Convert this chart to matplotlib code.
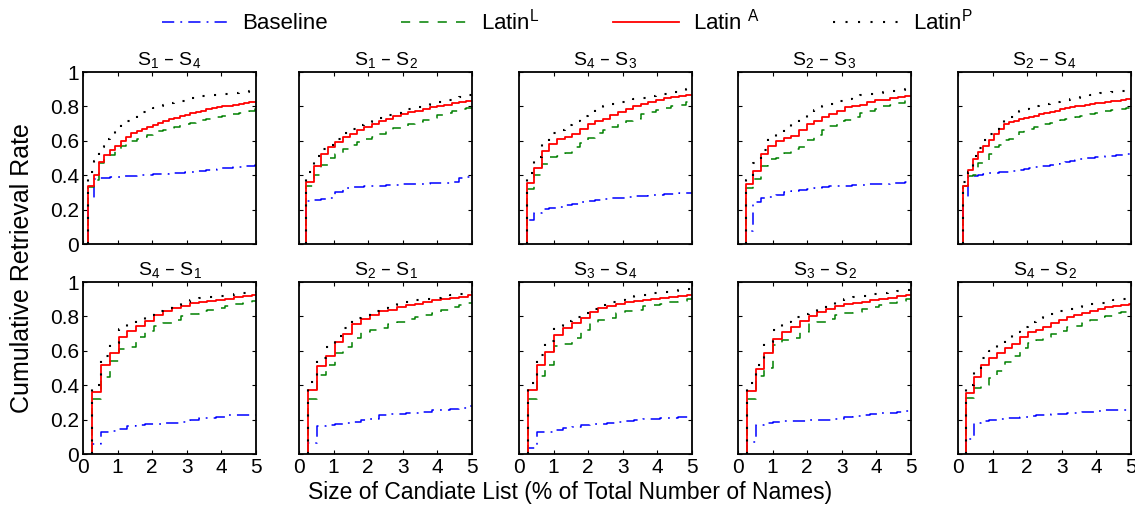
import numpy as np
import matplotlib
matplotlib.use("Agg")
import matplotlib.pyplot as plt

plt.rcParams['font.family'] = ['Liberation Sans', 'DejaVu Sans']
plt.rcParams['mathtext.default'] = 'regular'

# panel titles (pairs of scripts), row by row
titles = ['S$_1$ – S$_4$', 'S$_1$ – S$_2$', 'S$_4$ – S$_3$', 'S$_2$ – S$_3$', 'S$_2$ – S$_4$',
          'S$_4$ – S$_1$', 'S$_2$ – S$_1$', 'S$_3$ – S$_4$', 'S$_3$ – S$_2$', 'S$_4$ – S$_2$']

# size of one step on the x axis (% of names) for each panel
step = [0.155, 0.21, 0.22, 0.22, 0.147, 0.257, 0.257, 0.255, 0.255, 0.224]

baseline = [
    [0.27, 0.38, 0.383, 0.386, 0.389, 0.391, 0.393, 0.395, 0.397, 0.399, 0.401, 0.403, 0.405, 0.407, 0.409, 0.411,
     0.413, 0.415, 0.418, 0.421, 0.424, 0.427, 0.43, 0.433, 0.436, 0.439, 0.442, 0.445, 0.448, 0.451, 0.455, 0.46],
    [0.25, 0.255, 0.262, 0.27, 0.30, 0.325, 0.33, 0.333, 0.336, 0.338, 0.34, 0.343, 0.345, 0.347, 0.349, 0.35,
     0.351, 0.352, 0.354, 0.356, 0.362, 0.385, 0.39],
    [0.14, 0.18, 0.205, 0.212, 0.218, 0.225, 0.234, 0.242, 0.248, 0.254, 0.26, 0.265, 0.27, 0.274, 0.277, 0.28,
     0.283, 0.286, 0.289, 0.292, 0.295, 0.298],
    [0.078, 0.247, 0.267, 0.276, 0.286, 0.305, 0.31, 0.315, 0.32, 0.325, 0.33, 0.335, 0.338, 0.34, 0.342, 0.344,
     0.346, 0.348, 0.35, 0.352, 0.355, 0.358],
    [0.265, 0.39, 0.395, 0.40, 0.407, 0.41, 0.413, 0.416, 0.42, 0.423, 0.427, 0.432, 0.436, 0.441, 0.447, 0.452,
     0.456, 0.46, 0.465, 0.472, 0.478, 0.484, 0.49, 0.494, 0.498, 0.501, 0.504, 0.507, 0.511, 0.514, 0.517, 0.519,
     0.521, 0.523],
    [0.058, 0.13, 0.135, 0.144, 0.165, 0.169, 0.172, 0.175, 0.178, 0.181, 0.185, 0.195, 0.208, 0.212, 0.217, 0.227,
     0.228, 0.228, 0.229],
    [0.066, 0.16, 0.169, 0.172, 0.179, 0.185, 0.195, 0.202, 0.228, 0.23, 0.233, 0.237, 0.241, 0.247, 0.253, 0.257,
     0.26, 0.27, 0.278],
    [0.037, 0.126, 0.13, 0.14, 0.15, 0.158, 0.169, 0.173, 0.177, 0.18, 0.185, 0.19, 0.197, 0.202, 0.205, 0.21,
     0.212, 0.213, 0.214],
    [0.068, 0.169, 0.183, 0.186, 0.189, 0.191, 0.193, 0.195, 0.197, 0.2, 0.204, 0.215, 0.222, 0.226, 0.23, 0.237,
     0.241, 0.247, 0.252],
    [0.085, 0.179, 0.19, 0.195, 0.202, 0.207, 0.212, 0.217, 0.221, 0.224, 0.227, 0.231, 0.234, 0.237, 0.241, 0.244,
     0.247, 0.25, 0.253, 0.256, 0.258, 0.26],
]

latin_l = [
    [0.33, 0.37, 0.47, 0.50, 0.52, 0.55, 0.57, 0.59, 0.60, 0.61, 0.625, 0.635, 0.645, 0.655, 0.665, 0.672,
     0.68, 0.69, 0.698, 0.706, 0.713, 0.72, 0.726, 0.733, 0.74, 0.746, 0.752, 0.758, 0.764, 0.77, 0.776, 0.782],
    [0.335, 0.403, 0.46, 0.50, 0.525, 0.55, 0.578, 0.595, 0.61, 0.625, 0.64, 0.66, 0.675, 0.685, 0.70, 0.71,
     0.72, 0.735, 0.748, 0.76, 0.772, 0.782, 0.79],
    [0.32, 0.40, 0.463, 0.504, 0.51, 0.53, 0.566, 0.59, 0.615, 0.645, 0.66, 0.678, 0.70, 0.715, 0.727, 0.758,
     0.77, 0.78, 0.79, 0.80, 0.81, 0.826],
    [0.325, 0.38, 0.451, 0.494, 0.50, 0.529, 0.55, 0.565, 0.607, 0.636, 0.66, 0.685, 0.714, 0.72, 0.739, 0.763,
     0.775, 0.782, 0.80, 0.81, 0.817, 0.835],
    [0.335, 0.397, 0.40, 0.47, 0.49, 0.523, 0.564, 0.578, 0.607, 0.612, 0.62, 0.65, 0.66, 0.669, 0.678, 0.687,
     0.695, 0.705, 0.714, 0.72, 0.726, 0.733, 0.74, 0.747, 0.752, 0.758, 0.763, 0.768, 0.772, 0.777, 0.782, 0.786,
     0.789, 0.792],
    [0.318, 0.45, 0.538, 0.61, 0.625, 0.68, 0.713, 0.746, 0.76, 0.777, 0.80, 0.815, 0.83, 0.835, 0.847, 0.858,
     0.87, 0.878, 0.887],
    [0.319, 0.461, 0.52, 0.588, 0.623, 0.675, 0.708, 0.72, 0.733, 0.757, 0.77, 0.782, 0.798, 0.81, 0.821, 0.84,
     0.855, 0.866, 0.879],
    [0.319, 0.455, 0.52, 0.63, 0.64, 0.675, 0.72, 0.763, 0.78, 0.792, 0.821, 0.83, 0.84, 0.86, 0.868, 0.874,
     0.885, 0.892, 0.899],
    [0.319, 0.455, 0.50, 0.636, 0.66, 0.675, 0.708, 0.759, 0.77, 0.782, 0.811, 0.82, 0.827, 0.844, 0.855, 0.866,
     0.879, 0.89, 0.899],
    [0.328, 0.383, 0.40, 0.439, 0.483, 0.532, 0.571, 0.614, 0.643, 0.66, 0.682, 0.70, 0.715, 0.736, 0.746, 0.76,
     0.781, 0.794, 0.805, 0.817, 0.825, 0.833],
]

latin_a = [
    [0.335, 0.40, 0.475, 0.52, 0.545, 0.572, 0.597, 0.622, 0.643, 0.657, 0.670, 0.682, 0.693, 0.704, 0.714, 0.724,
     0.734, 0.744, 0.752, 0.760, 0.768, 0.776, 0.783, 0.789, 0.795, 0.800, 0.805, 0.810, 0.815, 0.819, 0.823, 0.827],
    [0.36, 0.455, 0.523, 0.564, 0.591, 0.62, 0.641, 0.661, 0.68, 0.698, 0.713, 0.727, 0.742, 0.756, 0.766, 0.775,
     0.787, 0.795, 0.80, 0.81, 0.818, 0.824, 0.831],
    [0.355, 0.44, 0.543, 0.58, 0.61, 0.625, 0.64, 0.668, 0.70, 0.713, 0.729, 0.752, 0.768, 0.785, 0.805, 0.816,
     0.826, 0.836, 0.846, 0.855, 0.863, 0.869],
    [0.35, 0.422, 0.523, 0.568, 0.60, 0.617, 0.63, 0.665, 0.695, 0.714, 0.739, 0.757, 0.776, 0.796, 0.805, 0.811,
     0.825, 0.835, 0.84, 0.846, 0.856, 0.862],
    [0.339, 0.432, 0.494, 0.533, 0.572, 0.607, 0.642, 0.669, 0.695, 0.708, 0.718, 0.724, 0.731, 0.739, 0.747, 0.754,
     0.761, 0.768, 0.776, 0.784, 0.791, 0.796, 0.80, 0.805, 0.809, 0.814, 0.818, 0.822, 0.826, 0.83, 0.834, 0.838,
     0.841, 0.844],
    [0.363, 0.515, 0.59, 0.68, 0.718, 0.746, 0.771, 0.81, 0.829, 0.849, 0.862, 0.878, 0.883, 0.891, 0.897, 0.903,
     0.911, 0.917, 0.922],
    [0.374, 0.51, 0.572, 0.65, 0.698, 0.757, 0.786, 0.811, 0.831, 0.84, 0.854, 0.866, 0.875, 0.885, 0.895, 0.899,
     0.909, 0.914, 0.924],
    [0.374, 0.519, 0.595, 0.689, 0.733, 0.763, 0.792, 0.827, 0.846, 0.86, 0.874, 0.883, 0.889, 0.895, 0.903, 0.909,
     0.912, 0.918, 0.924],
    [0.364, 0.494, 0.588, 0.671, 0.708, 0.739, 0.776, 0.802, 0.827, 0.844, 0.86, 0.87, 0.879, 0.885, 0.895, 0.899,
     0.909, 0.918, 0.924],
    [0.357, 0.449, 0.518, 0.561, 0.59, 0.616, 0.639, 0.678, 0.711, 0.722, 0.74, 0.759, 0.779, 0.794, 0.81, 0.821,
     0.833, 0.843, 0.852, 0.86, 0.868, 0.872],
]

latin_p = [
    [0.42, 0.48, 0.565, 0.61, 0.64, 0.672, 0.695, 0.717, 0.735, 0.753, 0.768, 0.78, 0.79, 0.80, 0.81, 0.818,
     0.826, 0.833, 0.84, 0.847, 0.853, 0.858, 0.863, 0.867, 0.871, 0.874, 0.877, 0.88, 0.883, 0.885, 0.888, 0.89],
    [0.42, 0.51, 0.55, 0.578, 0.61, 0.645, 0.67, 0.69, 0.707, 0.72, 0.735, 0.75, 0.762, 0.775, 0.787, 0.797,
     0.807, 0.817, 0.826, 0.835, 0.845, 0.855, 0.865],
    [0.41, 0.508, 0.60, 0.645, 0.665, 0.693, 0.717, 0.742, 0.765, 0.785, 0.80, 0.812, 0.824, 0.834, 0.842, 0.85,
     0.858, 0.866, 0.874, 0.883, 0.892, 0.90],
    [0.37, 0.47, 0.545, 0.615, 0.645, 0.67, 0.70, 0.728, 0.755, 0.78, 0.80, 0.815, 0.83, 0.843, 0.855, 0.866,
     0.874, 0.88, 0.886, 0.892, 0.897, 0.903],
    [0.36, 0.42, 0.51, 0.56, 0.605, 0.64, 0.67, 0.70, 0.72, 0.74, 0.76, 0.775, 0.785, 0.795, 0.80, 0.807,
     0.813, 0.82, 0.826, 0.832, 0.838, 0.845, 0.851, 0.857, 0.863, 0.869, 0.873, 0.876, 0.879, 0.882, 0.885, 0.89,
     0.893, 0.896],
    [0.40, 0.571, 0.645, 0.728, 0.757, 0.78, 0.806, 0.829, 0.849, 0.868, 0.883, 0.896, 0.905, 0.912, 0.918, 0.924,
     0.932, 0.938, 0.944],
    [0.418, 0.56, 0.62, 0.685, 0.735, 0.79, 0.811, 0.831, 0.85, 0.865, 0.876, 0.884, 0.893, 0.901, 0.909, 0.917,
     0.926, 0.932, 0.94],
    [0.412, 0.574, 0.656, 0.745, 0.772, 0.796, 0.822, 0.845, 0.865, 0.882, 0.895, 0.907, 0.918, 0.926, 0.934, 0.941,
     0.947, 0.953, 0.96],
    [0.412, 0.52, 0.65, 0.72, 0.765, 0.795, 0.815, 0.831, 0.85, 0.866, 0.885, 0.9, 0.912, 0.92, 0.928, 0.935,
     0.942, 0.947, 0.953],
    [0.40, 0.49, 0.56, 0.60, 0.64, 0.675, 0.71, 0.74, 0.765, 0.79, 0.805, 0.815, 0.83, 0.845, 0.855, 0.865,
     0.873, 0.88, 0.888, 0.895, 0.902, 0.907],
]

names = ['Baseline', 'Latin$^L$', 'Latin $^A$', 'Latin$^P$']


def stairs(vals, d):
    # cumulative rate at each step of the candidate list, drawn from first step to x=5
    x = d * np.arange(1, len(vals) + 1)
    x = np.concatenate([[x[0]], x, [5.0]])
    y = np.concatenate([[0.0], vals, [vals[-1]]])
    return x, y


W, H = 1135, 508
fig = plt.figure(figsize=(W / 100, H / 100), dpi=100)

lefts = [83, 299, 519, 738, 958]
tops = [72, 282]
pw, ph = 173, 172

for i in range(10):
    r, c = divmod(i, 5)
    ax = fig.add_axes([lefts[c] / W, 1 - (tops[r] + ph) / H, pw / W, ph / H])
    d = step[i]
    x, y = stairs(baseline[i], d)
    ax.step(x, y, where='post', color='#0000ff', lw=1.1, dashes=(8, 4, 1.2, 4), label=names[0])
    x, y = stairs(latin_l[i], d)
    ax.step(x, y, where='post', color='#008000', lw=1.1, dashes=(6, 6), label=names[1])
    x, y = stairs(latin_a[i], d)
    ax.step(x, y, where='post', color='#ff0000', lw=1.3, label=names[2])
    x, y = stairs(latin_p[i], d)
    ax.step(x, y, where='post', color='black', lw=1.5, dashes=(1, 5), label=names[3])

    ax.set_xlim(0, 5)
    ax.set_ylim(0, 1)
    ax.set_xticks(range(6))
    ax.set_yticks([0, 0.2, 0.4, 0.6, 0.8, 1])
    ax.tick_params(direction='in', top=True, right=True, length=3, labelsize=15, pad=3)
    if r == 0:
        ax.set_xticklabels([])
    if c == 0:
        ax.set_yticklabels(['0', '0.2', '0.4', '0.6', '0.8', '1'])
    else:
        ax.set_yticklabels([])
    for s in ax.spines.values():
        s.set_linewidth(1.3)
    ax.set_title(titles[i], fontsize=14, pad=5)
    if i == 0:
        handles, labels = ax.get_legend_handles_labels()

fig.legend(handles, labels, loc='center', bbox_to_anchor=(0.5, 0.958), ncol=4, frameon=False,
           fontsize=16, handlelength=3.0, columnspacing=3.3, handletextpad=0.6)
fig.text(22 / W, 1 - 268 / H, 'Cumulative Retrieval Rate', rotation=90, ha='center', va='center', fontsize=18)
fig.text(570 / W, 1 - 493 / H, 'Size of Candiate List (% of Total Number of Names)', ha='center',
         va='center', fontsize=16.5)

fig.savefig('out.png', dpi=100)
